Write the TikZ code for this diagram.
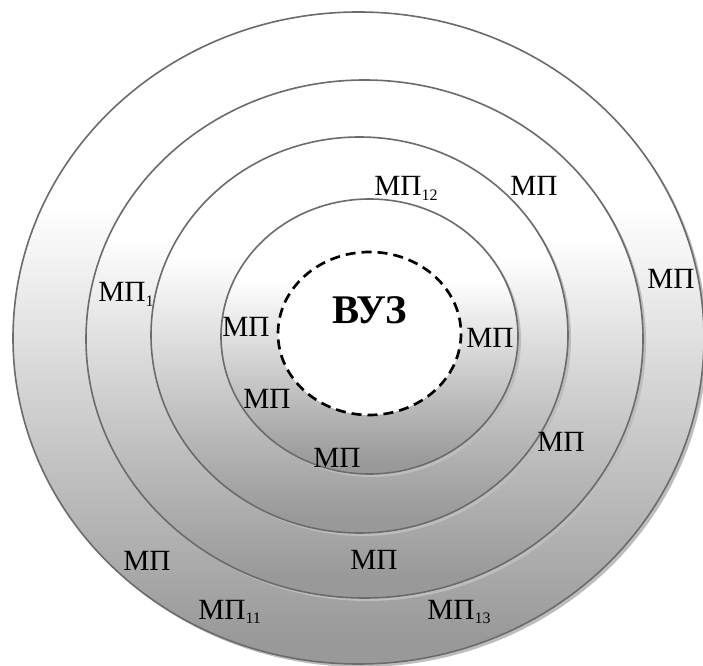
\documentclass[tikz,border=0pt]{standalone}
\usepackage{fontspec}
\setmainfont{Liberation Serif}

\definecolor{ringline}{gray}{0.42}
\definecolor{ringdark}{gray}{0.6}
\definecolor{ringshadow}{gray}{0.74}
\pgfdeclareverticalshading{ringfill}{100bp}{color(0bp)=(ringdark); color(27bp)=(ringdark); color(60bp)=(white); color(100bp)=(white)}
\newcommand{\mpsub}[1]{\raisebox{-3.5pt}{\fontsize{12}{12}\selectfont #1}}

\begin{document}
\begin{tikzpicture}[
  x=0.75pt, y=-0.75pt,
  ring/.style={draw=ringline, line width=1.2pt, shade, shading=ringfill},
  ringshade/.style={fill=ringshadow, draw=none},
  core/.style={draw=black, fill=white, line width=2pt, dash pattern=on 7.5pt off 4.5pt},
  lab/.style={anchor=base west, inner sep=0pt, font=\fontsize{22}{22}\selectfont},
  title/.style={anchor=base west, inner sep=0pt, font=\fontsize{30.5}{30}\selectfont\bfseries}
]
\clip (0,0) rectangle (703,666);
% rings, outside in
\fill[ringshade] (361.5,341) ellipse [x radius=345.5, y radius=326];
\path[ring] (358.5,338) ellipse [x radius=345.5, y radius=326];
\fill[ringshade] (367.5,342) ellipse [x radius=278.5, y radius=259];
\path[ring] (364.5,339) ellipse [x radius=278.5, y radius=259];
\fill[ringshade] (362.5,338) ellipse [x radius=208.5, y radius=198];
\path[ring] (359.5,335) ellipse [x radius=208.5, y radius=198];
\fill[ringshade] (372.5,339.5) ellipse [x radius=148.5, y radius=137.5];
\path[ring] (369.5,336.5) ellipse [x radius=148.5, y radius=137.5];
\draw[core] (369.5,333.5) ellipse [x radius=91.5, y radius=81.5];
% labels
\node[title] (vuz) at (332,324) {ВУЗ};
\node[lab] (mp12) at (374,196) {МП\mpsub{12}};
\node[lab] (mpnne) at (510,196) {МП};
\node[lab] (mpe) at (647,289) {МП};
\node[lab] (mp1) at (98,302) {МП\mpsub{1}};
\node[lab] (mpw) at (222,337) {МП};
\node[lab] (mpin) at (466,348) {МП};
\node[lab] (mpsw) at (243,408) {МП};
\node[lab] (mpse) at (537,451) {МП};
\node[lab] (mps) at (313,467) {МП};
\node[lab] (mpssw) at (123,570) {МП};
\node[lab] (mpsss) at (350,569) {МП};
\node[lab] (mp11) at (198,619) {МП\mpsub{11}};
\node[lab] (mp13) at (427,619) {МП\mpsub{13}};
\end{tikzpicture}
\end{document}
